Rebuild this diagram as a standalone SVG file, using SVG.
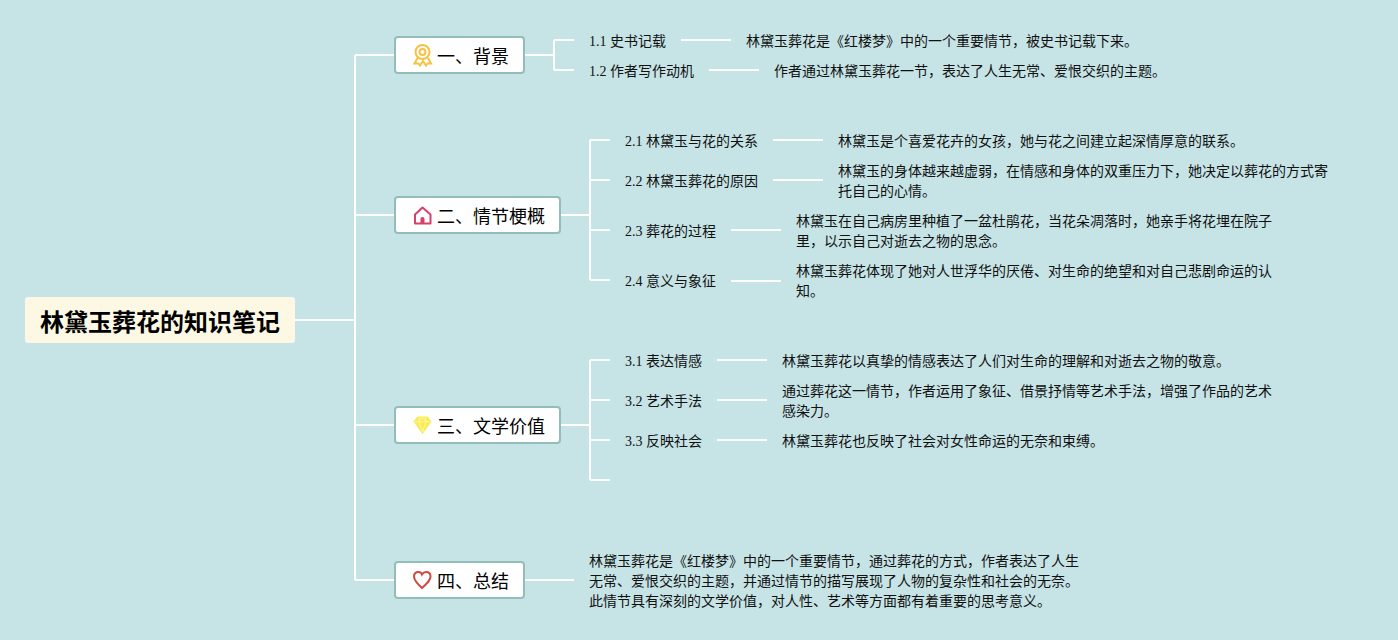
<svg xmlns="http://www.w3.org/2000/svg" width="1398" height="640" viewBox="0 0 1398 640">
<style>
text{font-family:"Liberation Serif","Noto Sans CJK SC",serif;font-size:14px;fill:#111}
.t{font-size:18px;fill:#000}
.r{font-family:"Noto Sans CJK SC",sans-serif;font-size:24px;font-weight:700;fill:#000}
.b{fill:#fff;stroke:#93bdb8;stroke-width:2}
.c{fill:none;stroke:#fff;stroke-width:2}
</style>
<rect width="1398" height="640" fill="#c6e4e6"/>
<g id="connectors" class="c">
<path d="M295 320H355M355 55V580M355 55H394M355 215H394M355 425H394M355 580H394"/>
<path d="M525 55H554M554 40V70M554 40H574M554 70H574"/>
<path d="M681 40H731M709 70H759"/>
<path d="M561 215H590M590 140V280M590 140H610M590 180H610M590 230H610M590 280H610"/>
<path d="M773 140H823M773 180H823M731 230H781M731 281H781"/>
<path d="M561 425H590M590 360V480M590 360H610M590 400H610M590 440H610M590 480H610"/>
<path d="M717 360H767M717 400H767M717 440H767"/>
<path d="M525 580H574"/>
</g>
<g id="root"><rect x="25" y="297" width="270" height="46" rx="3" fill="#fdf8e4"/><text class="r" x="40" y="331">林黛玉葬花的知识笔记</text></g>
<g id="n1"><rect class="b" x="395" y="37" width="129" height="36" rx="3"/>
<g fill="none" stroke="#f5c242" stroke-width="2"><circle cx="422.500" cy="52" r="7"/><circle cx="422.500" cy="52" r="3"/><path d="M417.500 58L414.500 63.500L418.500 63.500L420 65.500L423 61L426 65.500L427.500 63.500L431 63.500L428 58"/></g>
<text class="t" x="437" y="63">一、背景</text></g>
<g id="n2"><rect class="b" x="395" y="197" width="165" height="36" rx="3"/>
<path d="M415 214.500L422.500 207.500L430.500 214.500V223.500H415Z" fill="none" stroke="#d8406a" stroke-width="2" stroke-linejoin="round"/><path d="M420.500 223.500V219A2 2 0 0 1 424.500 219V223.500Z" fill="#d8406a"/>
<text class="t" x="437" y="223">二、情节梗概</text></g>
<g id="n3"><rect class="b" x="395" y="407" width="165" height="36" rx="3"/>
<path d="M417.500 417H427.500L431 421.500L422.500 433.500L414 421.500Z" fill="#f8ec50" stroke="#f8ec50"/><path d="M414.500 421.800H430.500M419 421.800L422.500 432M426 421.800L422.500 432M419.500 417.500L419 421.800L422.500 417.500L426 421.800L425.500 417.500" fill="none" stroke="#fff7a8" stroke-width="0.900"/>
<text class="t" x="437" y="433">三、文学价值</text></g>
<g id="n4"><rect class="b" x="395" y="562" width="129" height="36" rx="3"/>
<path d="M422 588C417 583.500 414 580.500 414 576.500C414 573.500 416 572 418.500 572C420 572 421.500 573 422 574.500C423 573 424.500 572 426 572C428.500 572 430.500 573.500 430.500 576.500C430.500 580.500 427 583.500 422 588Z" fill="none" stroke="#cf4a3f" stroke-width="2"/>
<text class="t" x="437" y="588">四、总结</text></g>
<g id="n11"><text x="589" y="46">1.1 史书记载</text></g>
<g id="n11d"><text x="746" y="46">林黛玉葬花是《红楼梦》中的一个重要情节，被史书记载下来。</text></g>
<g id="n12"><text x="589" y="76">1.2 作者写作动机</text></g>
<g id="n12d"><text x="774" y="76">作者通过林黛玉葬花一节，表达了人生无常、爱恨交织的主题。</text></g>
<g id="n21"><text x="625" y="146">2.1 林黛玉与花的关系</text></g>
<g id="n21d"><text x="838" y="146">林黛玉是个喜爱花卉的女孩，她与花之间建立起深情厚意的联系。</text></g>
<g id="n22"><text x="625" y="186">2.2 林黛玉葬花的原因</text></g>
<g id="n22d"><text x="838" y="176">林黛玉的身体越来越虚弱，在情感和身体的双重压力下，她决定以葬花的方式寄</text><text x="838" y="196">托自己的心情。</text></g>
<g id="n23"><text x="625" y="236">2.3 葬花的过程</text></g>
<g id="n23d"><text x="796" y="226">林黛玉在自己病房里种植了一盆杜鹃花，当花朵凋落时，她亲手将花埋在院子</text><text x="796" y="246">里，以示自己对逝去之物的思念。</text></g>
<g id="n24"><text x="625" y="286">2.4 意义与象征</text></g>
<g id="n24d"><text x="796" y="276">林黛玉葬花体现了她对人世浮华的厌倦、对生命的绝望和对自己悲剧命运的认</text><text x="796" y="296">知。</text></g>
<g id="n31"><text x="625" y="366">3.1 表达情感</text></g>
<g id="n31d"><text x="782" y="366">林黛玉葬花以真挚的情感表达了人们对生命的理解和对逝去之物的敬意。</text></g>
<g id="n32"><text x="625" y="406">3.2 艺术手法</text></g>
<g id="n32d"><text x="782" y="396">通过葬花这一情节，作者运用了象征、借景抒情等艺术手法，增强了作品的艺术</text><text x="782" y="416">感染力。</text></g>
<g id="n33"><text x="625" y="446">3.3 反映社会</text></g>
<g id="n33d"><text x="782" y="446">林黛玉葬花也反映了社会对女性命运的无奈和束缚。</text></g>
<g id="n41"><text x="589" y="566">林黛玉葬花是《红楼梦》中的一个重要情节，通过葬花的方式，作者表达了人生</text><text x="589" y="586">无常、爱恨交织的主题，并通过情节的描写展现了人物的复杂性和社会的无奈。</text><text x="589" y="606">此情节具有深刻的文学价值，对人性、艺术等方面都有着重要的思考意义。</text></g>
</svg>
